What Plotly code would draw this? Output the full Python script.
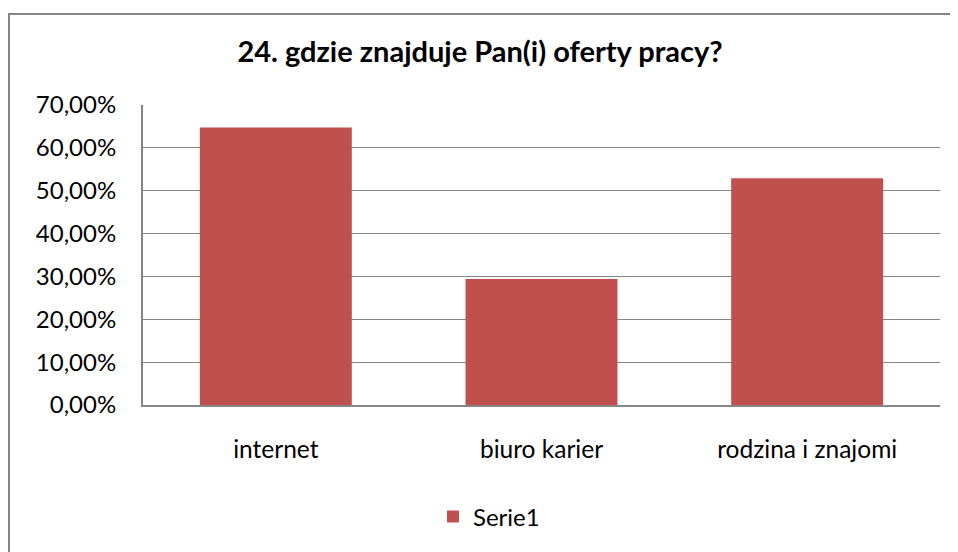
import plotly.graph_objects as go

categories = ["internet", "biuro karier", "rodzina i znajomi"]
values = [0.6475, 0.294, 0.529]
series_name = "Serie1"
title_text = "24. gdzie znajduje Pan(i) oferty pracy?"
y_ticks = [0, 0.1, 0.2, 0.3, 0.4, 0.5, 0.6, 0.7]

FONT = "Lato"
GRID = "#868686"

fig = go.Figure()
fig.add_trace(go.Bar(x=categories, y=values, name=series_name,
                     marker=dict(color="#C0504D", line=dict(width=0))))

# page has an 8px body margin; figure is sized to fill the rest of the window
OFF = 8
W, H = 958 - OFF, 552 - OFF
L, R, T, B = 143 - OFF, 18, 105 - OFF, 552 - 408
pw, ph = W - L - R, H - T - B

fig.update_layout(
    width=W, height=H,
    margin=dict(l=L, r=R, t=T, b=B),
    paper_bgcolor="white", plot_bgcolor="white",
    separators=", ",
    font=dict(family=FONT, size=24, color="black"),
    title=dict(text="<b>" + title_text + "</b>", x=(480 - OFF) / W, xanchor="center",
               xref="container", y=1 - (52 - OFF) / H, yanchor="middle",
               font=dict(family=FONT, size=29, color="black")),
    bargap=0.428,
    showlegend=True,
    legend=dict(orientation="h", x=(489 - 143) / pw, xanchor="center",
                y=(408 - 521) / ph, yanchor="middle",
                font=dict(family=FONT, size=24)),
    xaxis=dict(showline=True, linecolor=GRID, linewidth=2, ticks="",
               showgrid=False, ticklabelstandoff=22,
               tickfont=dict(family=FONT, size=24.5)),
    yaxis=dict(range=[0, 0.7], tickvals=y_ticks, tickformat=".2%",
               showgrid=True, gridcolor=GRID, gridwidth=1.3,
               showline=True, linecolor=GRID, linewidth=2, ticks="",
               ticklabelstandoff=20, zeroline=False,
               tickfont=dict(family=FONT, size=24)),
    shapes=[dict(type="rect", xref="paper", yref="paper",
                 x0=(9 - 143) / pw, x1=(980 - 143) / pw,
                 y0=(408 - 580) / ph, y1=1 + (105 - 13) / ph,
                 line=dict(color=GRID, width=2), layer="below")],
)
fig.write_html("out.html")
